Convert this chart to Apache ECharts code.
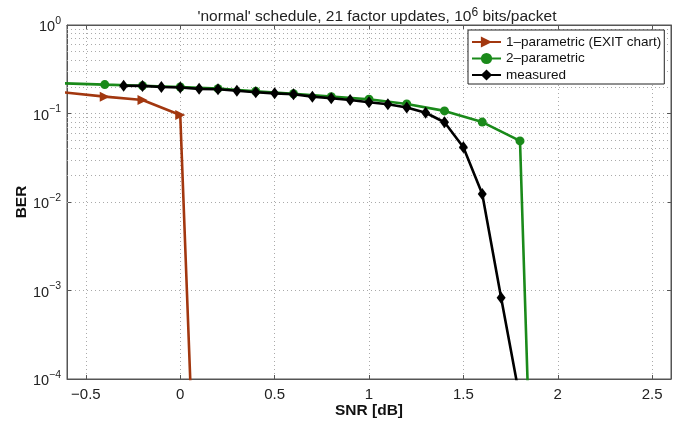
<!DOCTYPE html>
<html>
<head>
<meta charset="utf-8">
<script src="https://cdn.jsdelivr.net/npm/echarts@6/dist/echarts.min.js"></script>
<style>
html,body{margin:0;padding:0;background:#fff;}
#chart{width:686px;height:421px;}
</style>
</head>
<body>
<div id="chart"></div>
<script>
// ---- data ----
const seriesNames = ['1\u2013parametric (EXIT chart)', '2\u2013parametric', 'measured'];

const snrOneParam = [-0.8, -0.4, -0.2, 0.0, 0.1];
const berOneParam = [0.19, 0.155, 0.142, 0.096, 2.2e-7];

const snrTwoParam = [-0.8, -0.4, -0.2, 0.0, 0.2, 0.4, 0.6, 0.8, 1.0, 1.2, 1.4, 1.6, 1.8, 1.85];
const berTwoParam = [0.226, 0.212, 0.206, 0.199, 0.191, 0.178, 0.167, 0.155, 0.145, 0.128, 0.107, 0.080, 0.049, 2e-5];

const snrMeasured = [-0.3, -0.2, -0.1, 0.0, 0.1, 0.2, 0.3, 0.4, 0.5, 0.6, 0.7, 0.8, 0.9, 1.0, 1.1, 1.2, 1.3, 1.4, 1.5, 1.6, 1.7, 1.8];
const berMeasured = [0.206, 0.205, 0.199, 0.197, 0.19, 0.188, 0.181, 0.174, 0.169, 0.165, 0.155, 0.149, 0.142, 0.134, 0.127, 0.117, 0.102, 0.0796, 0.0415, 0.0123, 8.3e-4, 5.9e-5];

const xTicks = [-0.5, 0, 0.5, 1, 1.5, 2, 2.5];
const yDecades = [1e-4, 1e-3, 1e-2, 1e-1, 1];
const minorMultipliers = [2, 3, 4, 5, 6, 7, 8, 9];

// ---- chart ----
const FONT = '"Liberation Sans", Arial, Helvetica, sans-serif';
const minorGrid = [];
for (let k = 0; k < yDecades.length - 1; k++) {
  minorMultipliers.forEach(m => minorGrid.push({ yAxis: m * yDecades[k] }));
}
const pairs = (xs, ys) => xs.map((x, i) => [x, ys[i]]);
const fmtX = v => String(v).replace('-', '\u2212');
const fmtY = v => {
  const e = Math.round(Math.log10(v));
  return '{b|10}{s|' + String(e).replace('-', '\u2212') + '}';
};
const gridDots = { type: [1, 3], color: '#aaa', width: 1 };

const chart = echarts.init(document.getElementById('chart'), null, { renderer: 'canvas' });
chart.setOption({
  animation: false,
  backgroundColor: '#fff',
  textStyle: { fontFamily: FONT },
  title: {
    text: "'normal' schedule, 21 factor updates, 10{s|6} bits/packet",
    left: 372, top: 2, textAlign: 'center',
    textStyle: {
      fontSize: 15.5, fontWeight: 'normal', color: '#222', fontFamily: FONT,
      rich: { s: { fontSize: 12, color: '#222', padding: [0, 0, 8, 0], verticalAlign: 'bottom', fontFamily: FONT } }
    }
  },
  grid: { left: 67, right: 15, top: 25, bottom: 42, outerBoundsMode: 'none', containLabel: false,
    show: true, borderColor: '#555', borderWidth: 1, backgroundColor: '#fff' },
  legend: {
    data: seriesNames,
    orient: 'vertical',
    left: 468, top: 30,
    itemWidth: 29, itemHeight: 14, itemGap: 2.5,
    padding: [5, 3, 2, 3],
    backgroundColor: '#fff',
    borderColor: '#222', borderWidth: 1,
    textStyle: { fontSize: 13.5, color: '#111', fontFamily: FONT }
  },
  xAxis: [{
    type: 'value', min: -0.6, max: 2.6,
    name: 'SNR [dB]', nameLocation: 'middle', nameGap: 24, nameMoveOverlap: false,
    nameTextStyle: { fontSize: 15.5, fontWeight: 'bold', color: '#111', fontFamily: FONT },
    axisLine: { show: true, onZero: false, lineStyle: { color: '#555' } },
    axisTick: { show: true, inside: true, length: 4, customValues: xTicks, lineStyle: { color: '#555' } },
    axisLabel: { fontSize: 15, color: '#222', margin: 8, formatter: fmtX, customValues: xTicks },
    splitLine: { show: true, lineStyle: gridDots }
  }, {
    type: 'value', min: -0.6, max: 2.6, position: 'top',
    axisLine: { show: true, onZero: false, lineStyle: { color: '#555' } },
    axisTick: { show: true, inside: true, length: 4, customValues: xTicks, lineStyle: { color: '#555' } },
    axisLabel: { show: false, customValues: xTicks }, splitLine: { show: false }
  }],
  yAxis: [{
    type: 'log', logBase: 10, min: 1e-4, max: 1,
    name: 'BER', nameLocation: 'middle', nameGap: 37, nameMoveOverlap: false,
    nameTextStyle: { fontSize: 15.5, fontWeight: 'bold', color: '#111', fontFamily: FONT },
    axisLine: { show: true, onZero: false, lineStyle: { color: '#555' } },
    axisTick: { show: true, inside: true, length: 4, lineStyle: { color: '#555' } },
    axisLabel: {
      fontSize: 14, color: '#222', margin: 6, formatter: fmtY,
      rich: {
        b: { fontSize: 14.5, color: '#222', fontFamily: FONT, verticalAlign: 'bottom' },
        s: { fontSize: 10.5, color: '#222', fontFamily: FONT, padding: [0, 0, 8, 0], verticalAlign: 'bottom' }
      }
    },
    splitLine: { show: true, lineStyle: gridDots }
  }, {
    type: 'log', logBase: 10, min: 1e-4, max: 1, position: 'right',
    axisLine: { show: true, onZero: false, lineStyle: { color: '#555' } },
    axisTick: { show: true, inside: true, length: 4, lineStyle: { color: '#555' } },
    axisLabel: { show: false }, splitLine: { show: false }
  }],
  series: [
    {
      name: seriesNames[0], type: 'line', data: pairs(snrOneParam, berOneParam),
      xAxisIndex: 0, yAxisIndex: 0, clip: true, z: 3,
      symbol: 'triangle', symbolSize: [10, 10], symbolRotate: -90,
      lineStyle: { color: '#a2370f', width: 2.6 },
      itemStyle: { color: '#a2370f' },
      markLine: {
        silent: true, symbol: 'none', label: { show: false },
        lineStyle: gridDots,
        data: minorGrid, z: 1, animation: false
      }
    },
    {
      name: seriesNames[1], type: 'line', data: pairs(snrTwoParam, berTwoParam),
      clip: true, z: 4,
      symbol: 'circle', symbolSize: 9,
      lineStyle: { color: '#1a8a1a', width: 2.6 },
      itemStyle: { color: '#1a8a1a' }
    },
    {
      name: seriesNames[2], type: 'line', data: pairs(snrMeasured, berMeasured),
      clip: true, z: 5,
      symbol: 'diamond', symbolSize: [9, 12],
      lineStyle: { color: '#000', width: 2.6 },
      itemStyle: { color: '#000' }
    }
  ]
});
</script>
</body>
</html>
